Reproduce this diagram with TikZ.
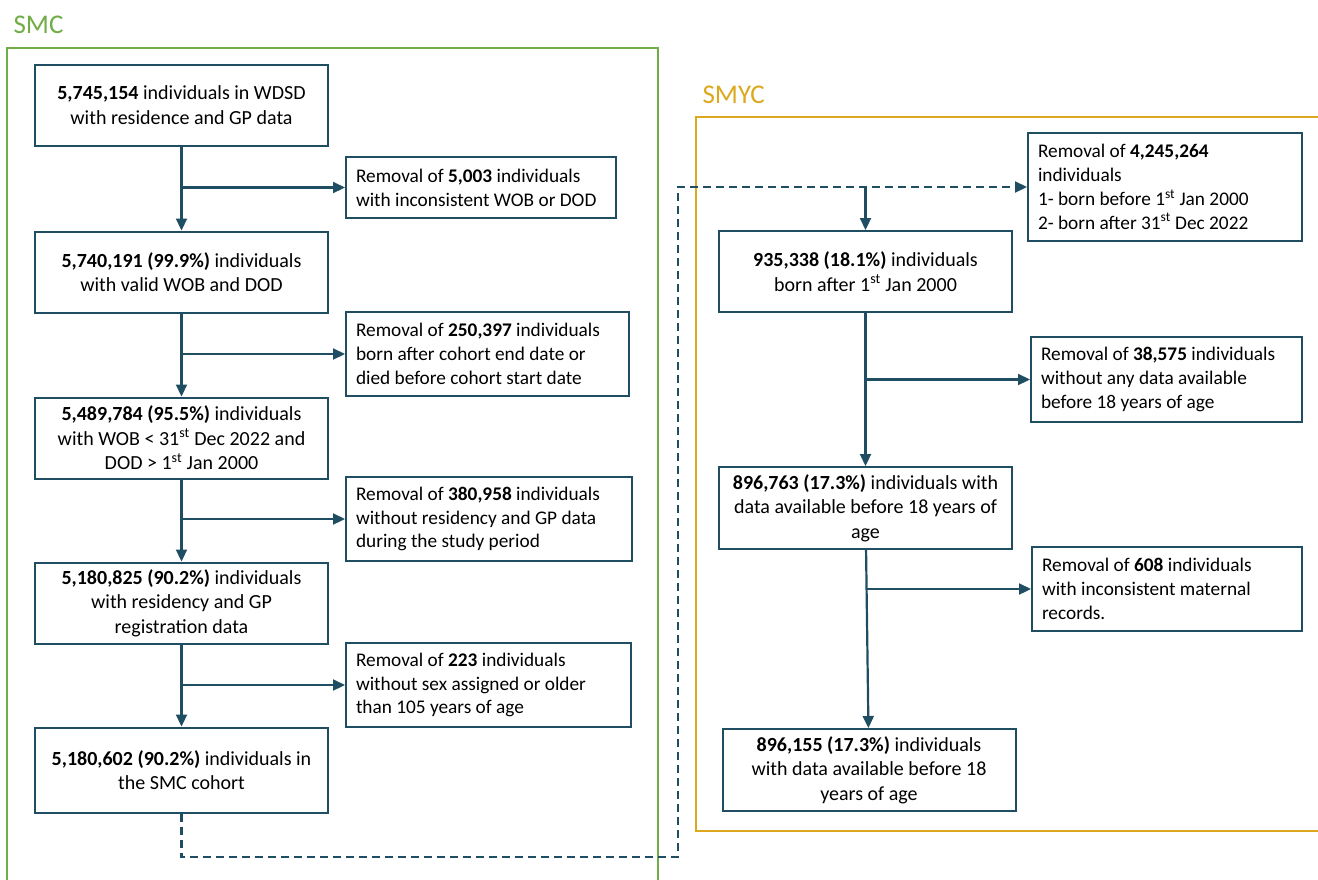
\documentclass[tikz,border=0pt]{standalone}
\usepackage{fontspec}
\setmainfont{Carlito}
\usetikzlibrary{positioning,arrows.meta}
\definecolor{flowteal}{RGB}{31,78,98}
\definecolor{smcgreen}{RGB}{112,173,71}
\definecolor{smycgold}{RGB}{220,168,30}

\begin{document}
\begin{tikzpicture}[
    x=1pt, y=1pt,
    node distance=84pt,
    box/.style={rectangle, draw=flowteal, line width=2pt, font=\fontsize{20}{24.4}\selectfont},
    mainbox/.style={box, align=center, minimum width=293pt, minimum height=81pt, inner sep=4pt},
    rmbox/.style={box, align=flush left, anchor=west, inner xsep=10pt, text width=#1, font=\fontsize{19.3}{23.8}\selectfont},
    flow/.style={draw=flowteal, line width=2.2pt, -{Triangle[length=12pt,width=11pt]}},
    cohort/.style={font=\fontsize{27}{32}\selectfont, anchor=base west}
]
    \useasboundingbox (0,0) rectangle (1318,-879);

    % Cohort frames
    \node[cohort, text=smcgreen] (smclabel) at (10,-33) {SMC};
    \draw[smcgreen, line width=1.6pt] (7,-880) -- (7,-48) -- (658,-48) -- (658,-880);
    \node[cohort, text=smycgold] (smyclabel) at (699,-103) {SMYC};
    \draw[smycgold, line width=1.8pt] (1320,-117) -- (696,-117) -- (696,-831) -- (1320,-831);

    % SMC path
    \node[mainbox] (total) at (181.5,-105) {\textbf{5,745,154} individuals in WDSD\\with residence and GP data};
    \node[mainbox, below=84pt of total] (validwob) {\textbf{5,740,191 (99.9\%)} individuals\\with valid WOB and DOD};
    \node[mainbox, below=83pt of validwob] (inrange) {\textbf{5,489,784 (95.5\%)} individuals\\with WOB < 31\textsuperscript{st} Dec 2022 and\\DOD > 1\textsuperscript{st} Jan 2000};
    \node[mainbox, below=82pt of inrange] (withgp) {\textbf{5,180,825 (90.2\%)} individuals\\with residency and GP\\registration data};
    \node[mainbox, minimum height=85pt, below=82pt of withgp] (smc) {\textbf{5,180,602 (90.2\%)} individuals in\\the SMC cohort};

    % SMC removals
    \node[rmbox=250pt, minimum height=61pt] (rmwob) at (345,-187.5) {Removal of \textbf{5,003} individuals\\with inconsistent WOB or DOD};
    \node[rmbox=263pt, minimum height=84pt] (rmrange) at (345,-354) {Removal of \textbf{250,397} individuals\\born after cohort end date or\\died before cohort start date};
    \node[rmbox=266pt, minimum height=84pt] (rmgp) at (345,-519) {Removal of \textbf{380,958} individuals\\without residency and GP data\\during the study period};
    \node[rmbox=265pt, minimum height=84pt] (rmsex) at (345,-685) {Removal of \textbf{223} individuals\\without sex assigned or older\\than 105 years of age};

    % SMYC path
    \node[mainbox] (born2000) at (865.5,-271.5) {\textbf{935,338 (18.1\%)} individuals\\born after 1\textsuperscript{st} Jan 2000};
    \node[mainbox, minimum height=82pt, below=153pt of born2000] (withdata) {\textbf{896,763 (17.3\%)} individuals with\\data available before 18 years of\\age};
    \node[mainbox, minimum height=82pt, below=178pt of withdata, xshift=3.5pt] (smyc) {\textbf{896,155 (17.3\%)} individuals\\with data available before 18\\years of age};

    % SMYC removals
    \node[rmbox=254pt, minimum height=108pt] (rmborn) at (1027,-187) {Removal of \textbf{4,245,264}\\individuals\\1- born before 1\textsuperscript{st} Jan 2000\\2- born after 31\textsuperscript{st} Dec 2022};
    \node[rmbox=251pt, minimum height=85pt] (rmnodata) at (1030,-379.5) {Removal of \textbf{38,575} individuals\\without any data available\\before 18 years of age};
    \node[rmbox=250pt, minimum height=84pt] (rmmaternal) at (1031,-589) {Removal of \textbf{608} individuals\\with inconsistent maternal\\records.};

    % Edges
    \draw[flow] (total) -- (validwob);
    \draw[flow] (total |- rmwob) -- (rmwob);
    \draw[flow] (validwob) -- (inrange);
    \draw[flow] (validwob |- rmrange) -- (rmrange);
    \draw[flow] (inrange) -- (withgp);
    \draw[flow] (inrange |- rmgp) -- (rmgp);
    \draw[flow] (withgp) -- (smc);
    \draw[flow] (withgp |- rmsex) -- (rmsex);

    % SMC cohort feeds SMYC
    \coordinate (dashturn) at (678,-857);
    \draw[flow, dash pattern=on 8pt off 5pt] (smc) |- (dashturn) |- (rmborn);
    \draw[flow] (born2000 |- rmborn) -- (born2000);
    \draw[flow] (born2000) -- (withdata);
    \draw[flow] (born2000 |- rmnodata) -- (rmnodata);
    \draw[flow] (withdata) -- (smyc);
    \draw[flow] (withdata |- rmmaternal) -- (rmmaternal);
\end{tikzpicture}
\end{document}
